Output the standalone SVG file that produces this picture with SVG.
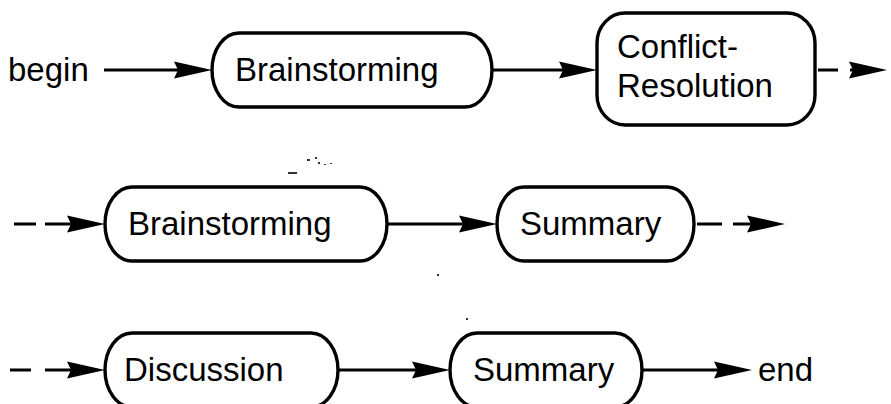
<svg xmlns="http://www.w3.org/2000/svg" xmlns:xlink="http://www.w3.org/1999/xlink" width="891" height="404" viewBox="0 0 891 404">
<style>
.box{fill:none;stroke:#000;stroke-width:3.4}
.lbl{font-family:"Liberation Sans",Arial,sans-serif;font-size:33px;fill:#000}
.ln{stroke:#000;stroke-width:3;fill:none}
.speck{fill:#333}
</style>
<defs>
<polygon id="ah" points="-38,-8.5 0,0 -38,8.5 -34,0" fill="#000"/>
</defs>
<rect width="891" height="404" fill="#fff"/>
<g id="begin"><text class="lbl" x="8" y="81">begin</text></g>
<g id="brainstorming1"><rect class="box" x="212" y="33" width="280" height="74" rx="27" ry="37"/><text class="lbl" x="235" y="81">Brainstorming</text></g>
<g id="conflict"><rect class="box" x="597" y="13" width="218" height="112" rx="28" ry="30"/><text class="lbl" x="617" y="58">Conflict-</text><text class="lbl" x="617" y="97">Resolution</text></g>
<g id="brainstorming2"><rect class="box" x="105" y="187" width="282" height="74" rx="27" ry="37"/><text class="lbl" x="128" y="235">Brainstorming</text></g>
<g id="summary1"><rect class="box" x="497" y="187" width="197" height="74" rx="27" ry="37"/><text class="lbl" x="520" y="235">Summary</text></g>
<g id="discussion"><rect class="box" x="105" y="333" width="233" height="74" rx="27" ry="37"/><text class="lbl" x="124" y="381">Discussion</text></g>
<g id="summary2"><rect class="box" x="450" y="333" width="192" height="74" rx="27" ry="37"/><text class="lbl" x="473" y="381">Summary</text></g>
<g id="end"><text class="lbl" x="758" y="381">end</text></g>
<g id="connectors">
<path class="ln" d="M104,70 H182"/><use xlink:href="#ah" x="212" y="70"/>
<path class="ln" d="M492,70 H568"/><use xlink:href="#ah" x="597" y="70"/>
<path class="ln" d="M818,70 H838 M850,70 H860"/><use xlink:href="#ah" x="887" y="70"/>
<path class="ln" d="M14,224 H36 M45,224 H72"/><use xlink:href="#ah" x="105" y="224"/>
<path class="ln" d="M387,224 H468"/><use xlink:href="#ah" x="497" y="224"/>
<path class="ln" d="M697,224 H722 M733,224 H752"/><use xlink:href="#ah" x="785" y="224"/>
<path class="ln" d="M10,370 H31 M45,370 H72"/><use xlink:href="#ah" x="105" y="370"/>
<path class="ln" d="M338,370 H420"/><use xlink:href="#ah" x="450" y="370"/>
<path class="ln" d="M642,370 H720"/><use xlink:href="#ah" x="752" y="370"/>
</g>
<g id="specks">
<rect class="speck" x="288" y="172" width="9" height="2"/>
<rect class="speck" x="307" y="159" width="3" height="2"/>
<rect class="speck" x="315" y="157" width="2" height="2"/>
<rect class="speck" x="318" y="162" width="2" height="2"/>
<rect class="speck" x="324" y="164" width="2" height="1"/>
<rect class="speck" x="330" y="163" width="2" height="1"/>
<rect class="speck" x="466" y="318" width="2" height="2"/>
<rect class="speck" x="437" y="274" width="2" height="2"/>
</g>
</svg>
